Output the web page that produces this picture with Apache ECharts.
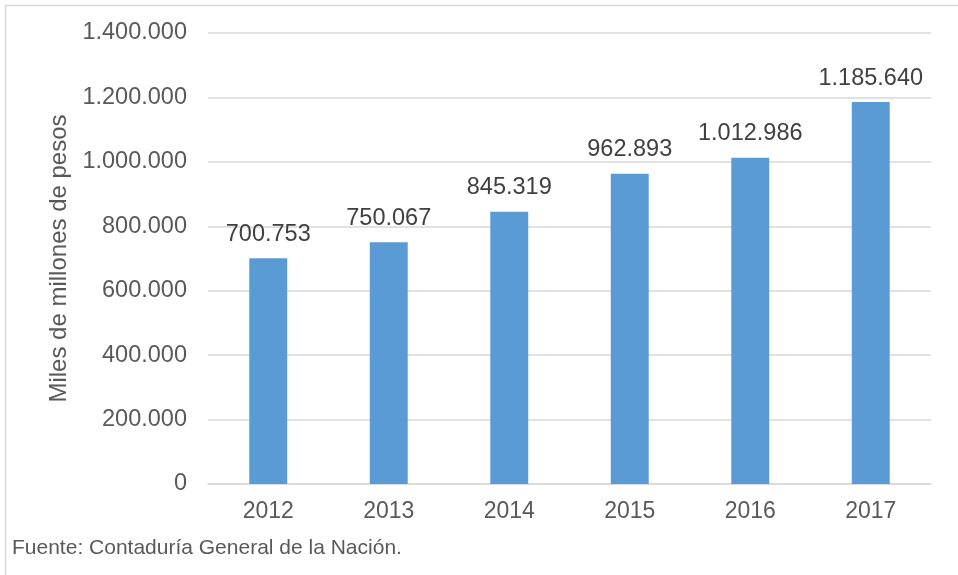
<!DOCTYPE html>
<html>
<head>
<meta charset="utf-8">
<script src="https://cdn.jsdelivr.net/npm/echarts@6/dist/echarts.min.js"></script>
<style>
  html, body { margin: 0; padding: 0; background: #fff; }
  #chart { width: 958px; height: 575px; }
</style>
</head>
<body>
<div id="chart"></div>
<script>
// datos
const years = ['2012', '2013', '2014', '2015', '2016', '2017']
const values = [700753, 750067, 845319, 962893, 1012986, 1185640]
const yAxisTitle = 'Miles de millones de pesos'
const sourceNote = 'Fuente: Contaduría General de la Nación.'

const fmt = (v) => String(Math.round(v)).replace(/\B(?=(\d{3})+(?!\d))/g, '.')

const chart = echarts.init(document.getElementById('chart'))
chart.setOption({
  backgroundColor: '#fff',
  animation: false,
  textStyle: { fontFamily: 'Liberation Sans, Arial, sans-serif' },
  graphic: [
    {
      type: 'rect', left: 3, top: 3,
      shape: { width: 970, height: 590 },
      style: { fill: 'none', stroke: '#d9d9d9', lineWidth: 1.5 }
    },
    {
      type: 'text', left: 12, top: 538,
      style: { text: sourceNote, fill: '#595959', font: '21px "Liberation Sans", Arial, sans-serif' }
    }
  ],
  grid: { left: 208, right: 27, top: 33, bottom: 91, containLabel: false },
  xAxis: {
    type: 'category',
    data: years,
    axisLine: { lineStyle: { color: '#d9d9d9', width: 1.5 } },
    axisTick: { show: false },
    axisLabel: { color: '#595959', fontSize: 23, margin: 16 }
  },
  yAxis: {
    type: 'value',
    min: 0, max: 1400000, interval: 200000,
    name: yAxisTitle,
    nameLocation: 'middle',
    nameGap: 136,
    nameTextStyle: { color: '#595959', fontSize: 24 },
    axisLine: { show: false },
    axisTick: { show: false },
    splitLine: { lineStyle: { color: '#d9d9d9', width: 1.5 } },
    axisLabel: { color: '#595959', fontSize: 23.5, margin: 21, formatter: fmt }
  },
  series: [{
    type: 'bar',
    data: values,
    barWidth: '31.5%',
    itemStyle: { color: '#5b9bd5' },
    label: {
      show: true, position: 'top', distance: 12,
      color: '#404040', fontSize: 23.5,
      formatter: (p) => fmt(p.value)
    }
  }]
})
</script>
</body>
</html>
